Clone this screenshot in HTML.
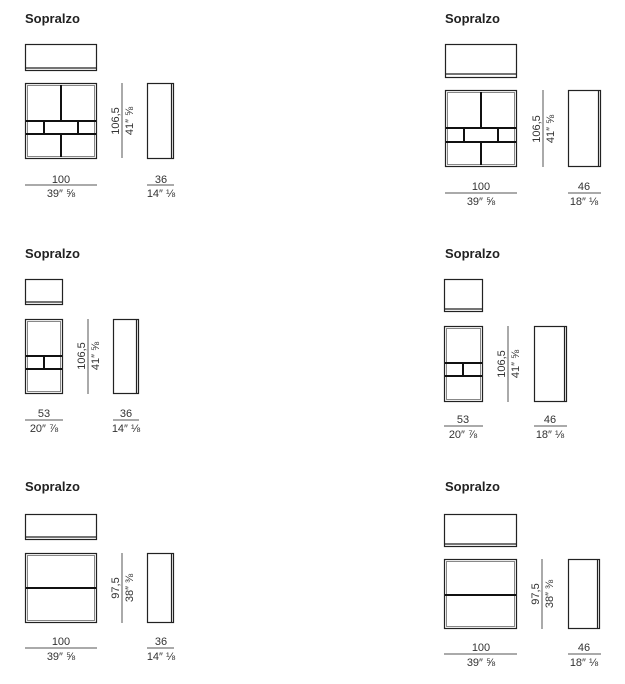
<!DOCTYPE html>
<html><head><meta charset="utf-8"><style>
html,body{margin:0;padding:0;background:#fff;}
svg{display:block;}
text{font-family:"Liberation Sans","DejaVu Sans",sans-serif;fill:#333;}
.t{font-weight:bold;font-size:13px;fill:#222;}
.d{font-size:11px;}
.ln{stroke:#222;stroke-width:1.2;fill:none;}
.g{stroke:#888;stroke-width:1;fill:none;}
.sh{stroke:#111;stroke-width:2;}
.dl{stroke:#555;stroke-width:1;}
</style></head><body>
<svg width="625" height="684" viewBox="0 0 625 684" xmlns="http://www.w3.org/2000/svg">
<defs></defs>

<!-- Panel 1 -->
<text class="t" x="25" y="23">Sopralzo</text>
<rect class="ln" x="25.5" y="44.5" width="71" height="26"/>
<line class="ln" x1="25" y1="68" x2="97" y2="68"/>
<rect class="ln" x="25.5" y="83.5" width="71" height="75"/>
<rect class="g" x="27.5" y="85.5" width="67" height="71"/>
<line class="sh" x1="26" y1="121" x2="96" y2="121"/>
<line class="sh" x1="26" y1="134" x2="96" y2="134"/>
<line class="sh" x1="61" y1="85" x2="61" y2="121"/>
<line class="sh" x1="61" y1="134" x2="61" y2="157"/>
<line class="sh" x1="44" y1="121" x2="44" y2="134"/>
<line class="sh" x1="78" y1="121" x2="78" y2="134"/>
<line class="dl" x1="122" y1="83" x2="122" y2="158"/>
<text class="d" transform="translate(119,121) rotate(-90)" text-anchor="middle">106,5</text>
<text class="d" transform="translate(133,121) rotate(-90)" text-anchor="middle">41″ ⅝</text>
<rect class="ln" x="147.5" y="83.5" width="26" height="75"/>
<line class="ln" x1="171.5" y1="84" x2="171.5" y2="158"/>
<line class="dl" x1="25" y1="185" x2="97" y2="185"/>
<text class="d" x="61" y="183" text-anchor="middle">100</text>
<text class="d" x="61" y="197" text-anchor="middle">39″ ⅝</text>
<line class="dl" x1="147" y1="185" x2="174" y2="185"/>
<text class="d" x="161" y="183" text-anchor="middle">36</text>
<text class="d" x="161" y="197" text-anchor="middle">14″ ⅛</text>

<!-- Panel 2 -->
<text class="t" x="445" y="23">Sopralzo</text>
<rect class="ln" x="445.5" y="44.5" width="71" height="33"/>
<line class="ln" x1="445" y1="74" x2="517" y2="74"/>
<rect class="ln" x="445.5" y="90.5" width="71" height="76"/>
<rect class="g" x="447.5" y="92.5" width="67" height="72"/>
<line class="sh" x1="446" y1="128" x2="516" y2="128"/>
<line class="sh" x1="446" y1="142" x2="516" y2="142"/>
<line class="sh" x1="481" y1="92" x2="481" y2="128"/>
<line class="sh" x1="481" y1="142" x2="481" y2="165"/>
<line class="sh" x1="464" y1="128" x2="464" y2="142"/>
<line class="sh" x1="498" y1="128" x2="498" y2="142"/>
<line class="dl" x1="543" y1="90" x2="543" y2="167"/>
<text class="d" transform="translate(540,129) rotate(-90)" text-anchor="middle">106,5</text>
<text class="d" transform="translate(554,129) rotate(-90)" text-anchor="middle">41″ ⅝</text>
<rect class="ln" x="568.5" y="90.5" width="32" height="76"/>
<line class="ln" x1="598.5" y1="91" x2="598.5" y2="167"/>
<line class="dl" x1="445" y1="193" x2="517" y2="193"/>
<text class="d" x="481" y="190" text-anchor="middle">100</text>
<text class="d" x="481" y="205" text-anchor="middle">39″ ⅝</text>
<line class="dl" x1="568" y1="193" x2="601" y2="193"/>
<text class="d" x="584" y="190" text-anchor="middle">46</text>
<text class="d" x="584" y="205" text-anchor="middle">18″ ⅛</text>

<!-- Panel 3 -->
<text class="t" x="25" y="258">Sopralzo</text>
<rect class="ln" x="25.5" y="279.5" width="37" height="25"/>
<line class="ln" x1="25" y1="302" x2="63" y2="302"/>
<rect class="ln" x="25.5" y="319.5" width="37" height="74"/>
<rect class="g" x="27.5" y="321.5" width="33" height="70"/>
<line class="sh" x1="26" y1="356" x2="62" y2="356"/>
<line class="sh" x1="26" y1="369" x2="62" y2="369"/>
<line class="sh" x1="44" y1="356" x2="44" y2="369"/>
<line class="dl" x1="88" y1="319" x2="88" y2="394"/>
<text class="d" transform="translate(85,356) rotate(-90)" text-anchor="middle">106,5</text>
<text class="d" transform="translate(99,356) rotate(-90)" text-anchor="middle">41″ ⅝</text>
<rect class="ln" x="113.5" y="319.5" width="25" height="74"/>
<line class="ln" x1="136.5" y1="320" x2="136.5" y2="394"/>
<line class="dl" x1="25" y1="420" x2="63" y2="420"/>
<text class="d" x="44" y="417" text-anchor="middle">53</text>
<text class="d" x="44" y="432" text-anchor="middle">20″ ⅞</text>
<line class="dl" x1="113" y1="420" x2="139" y2="420"/>
<text class="d" x="126" y="417" text-anchor="middle">36</text>
<text class="d" x="126" y="432" text-anchor="middle">14″ ⅛</text>

<!-- Panel 4 -->
<text class="t" x="445" y="258">Sopralzo</text>
<rect class="ln" x="444.5" y="279.5" width="38" height="32"/>
<line class="ln" x1="444" y1="309" x2="483" y2="309"/>
<rect class="ln" x="444.5" y="326.5" width="38" height="75"/>
<rect class="g" x="446.5" y="328.5" width="34" height="71"/>
<line class="sh" x1="445" y1="363" x2="482" y2="363"/>
<line class="sh" x1="445" y1="376" x2="482" y2="376"/>
<line class="sh" x1="463" y1="363" x2="463" y2="376"/>
<line class="dl" x1="508" y1="326" x2="508" y2="402"/>
<text class="d" transform="translate(505,364) rotate(-90)" text-anchor="middle">106,5</text>
<text class="d" transform="translate(519,364) rotate(-90)" text-anchor="middle">41″ ⅝</text>
<rect class="ln" x="534.5" y="326.5" width="32" height="75"/>
<line class="ln" x1="564.5" y1="327" x2="564.5" y2="402"/>
<line class="dl" x1="444" y1="426" x2="483" y2="426"/>
<text class="d" x="463" y="423" text-anchor="middle">53</text>
<text class="d" x="463" y="438" text-anchor="middle">20″ ⅞</text>
<line class="dl" x1="534" y1="426" x2="567" y2="426"/>
<text class="d" x="550" y="423" text-anchor="middle">46</text>
<text class="d" x="550" y="438" text-anchor="middle">18″ ⅛</text>

<!-- Panel 5 -->
<text class="t" x="25" y="491">Sopralzo</text>
<rect class="ln" x="25.5" y="514.5" width="71" height="25"/>
<line class="ln" x1="25" y1="537" x2="97" y2="537"/>
<rect class="ln" x="25.5" y="553.5" width="71" height="69"/>
<rect class="g" x="27.5" y="555.5" width="67" height="65"/>
<line class="sh" x1="26" y1="588" x2="96" y2="588"/>
<line class="dl" x1="122" y1="553" x2="122" y2="623"/>
<text class="d" transform="translate(119,588) rotate(-90)" text-anchor="middle">97,5</text>
<text class="d" transform="translate(133,588) rotate(-90)" text-anchor="middle">38″ ⅜</text>
<rect class="ln" x="147.5" y="553.5" width="26" height="69"/>
<line class="ln" x1="171.5" y1="554" x2="171.5" y2="623"/>
<line class="dl" x1="25" y1="648" x2="97" y2="648"/>
<text class="d" x="61" y="645" text-anchor="middle">100</text>
<text class="d" x="61" y="660" text-anchor="middle">39″ ⅝</text>
<line class="dl" x1="147" y1="648" x2="174" y2="648"/>
<text class="d" x="161" y="645" text-anchor="middle">36</text>
<text class="d" x="161" y="660" text-anchor="middle">14″ ⅛</text>

<!-- Panel 6 -->
<text class="t" x="445" y="491">Sopralzo</text>
<rect class="ln" x="444.5" y="514.5" width="72" height="32"/>
<line class="ln" x1="444" y1="544" x2="517" y2="544"/>
<rect class="ln" x="444.5" y="559.5" width="72" height="69"/>
<rect class="g" x="446.5" y="561.5" width="68" height="65"/>
<line class="sh" x1="445" y1="595" x2="516" y2="595"/>
<line class="dl" x1="542" y1="559" x2="542" y2="629"/>
<text class="d" transform="translate(539,594) rotate(-90)" text-anchor="middle">97,5</text>
<text class="d" transform="translate(553,594) rotate(-90)" text-anchor="middle">38″ ⅜</text>
<rect class="ln" x="568.5" y="559.5" width="31" height="69"/>
<line class="ln" x1="597.5" y1="560" x2="597.5" y2="629"/>
<line class="dl" x1="444" y1="654" x2="517" y2="654"/>
<text class="d" x="481" y="651" text-anchor="middle">100</text>
<text class="d" x="481" y="666" text-anchor="middle">39″ ⅝</text>
<line class="dl" x1="568" y1="654" x2="601" y2="654"/>
<text class="d" x="584" y="651" text-anchor="middle">46</text>
<text class="d" x="584" y="666" text-anchor="middle">18″ ⅛</text>
</svg>
</body></html>
